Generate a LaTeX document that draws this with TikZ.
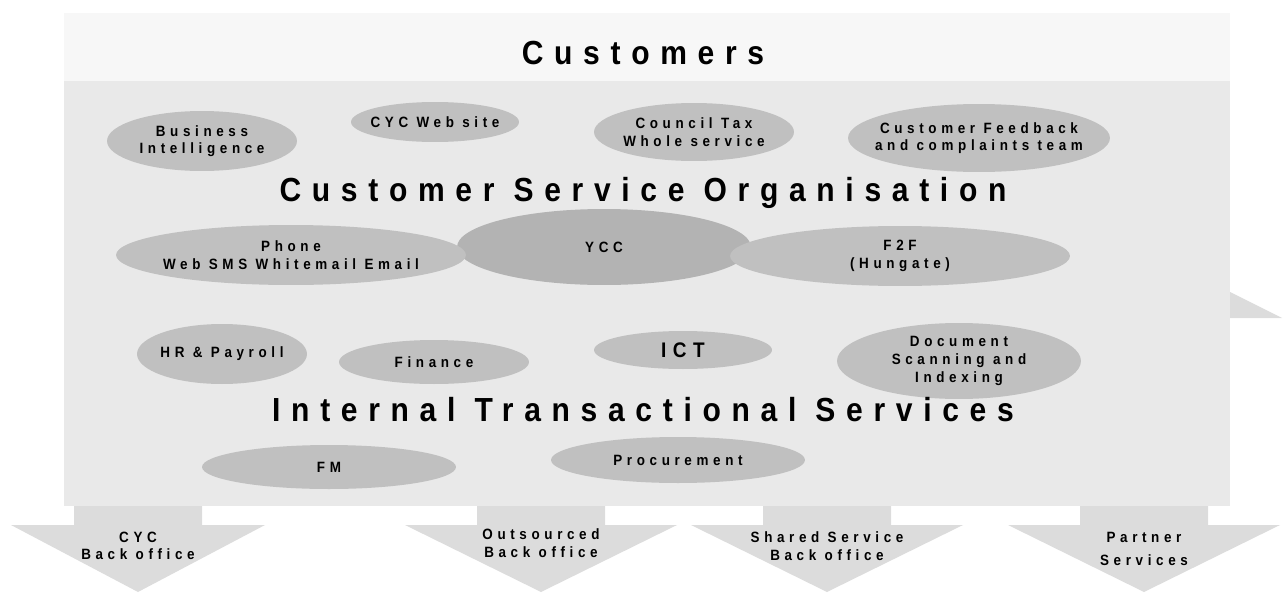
\documentclass[tikz,border=0pt]{standalone}
\usepackage{fontspec}
\setmainfont{Liberation Sans}
\newfontfamily\spaced{Liberation Sans}[UprightFont={* Bold},FakeStretch=0.9,LetterSpace=31]
\newfontfamily\spacedwide{Liberation Sans}[UprightFont={* Bold},FakeStretch=0.9,LetterSpace=32]
\usepackage{xcolor}
\usepackage{tikz}
\usetikzlibrary{shapes.geometric,positioning}

\definecolor{topgray}{HTML}{F7F7F7}
\definecolor{bandgray}{HTML}{E9E9E9}
\definecolor{arrowgray}{HTML}{DCDCDC}
\definecolor{ovalgray}{HTML}{C0C0C0}
\definecolor{yccgray}{HTML}{B3B3B3}

\begin{document}
\begin{tikzpicture}[
            x = 0.02cm, y = -0.02cm,
            oval/.style 2 args = {ellipse, fill = ovalgray, inner sep = 0pt,
                minimum width = #1*0.4mm, minimum height = #2*0.4mm},
            lbl/.style = {font = \spaced\fontsize{8.5}{10}\selectfont, align = center, inner sep = 0pt},
            title/.style = {font = \spacedwide\fontsize{19}{22}\selectfont, inner sep = 0pt}]
            \useasboundingbox (0,0) rectangle (1288,592);
            % bands
            \fill[arrowgray] (1230,292) -- (1282,318) -- (1230,318) -- cycle;
            \fill[topgray] (64,13) rectangle (1230,81);
            \fill[bandgray] (64,81) rectangle (1230,506);
            % back office arrows
            \foreach \cx/\hw in {138/127, 541/136, 827/136, 1144/136}
                \fill[arrowgray] (\cx-64,506) -- (\cx+64,506) -- (\cx+64,525) -- (\cx+\hw,525)
                    -- (\cx,592) -- (\cx-\hw,525) -- (\cx-64,525) -- cycle;
            \node[lbl] (cyc) at (138,546) {CYC\\Back office};
            \node[lbl] (outsrc) at (541,543) {Outsourced\\Back office};
            \node[lbl] (shared) at (827,546) {Shared Service\\Back office};
            \node[lbl] (partner) at (1144,549) {Partner\\[3pt]Services};
            % customer service organisation
            \node[oval = {95}{30}] (bizint) at (202,141) {};
            \node[lbl] (bizint-t) at (bizint) {Business\\Intelligence};
            \node[oval = {84}{20}] (website) at (435,122) {};
            \node[lbl] (website-t) at (website) {CYC Web site};
            \node[oval = {100}{29}] (ctax) at (694,132) {};
            \node[lbl] (ctax-t) at (ctax) {Council Tax\\Whole service};
            \node[oval = {131}{34}] (feedback) at (979,138) {};
            \node[lbl] (feedback-t) at (feedback) {Customer Feedback\\and complaints team};
            \node[oval = {147}{38}, fill = yccgray] (ycc) at (604,247) {};
            \node[lbl] (ycc-t) at (ycc) {YCC};
            \node[oval = {175}{30}] (phone) at (291,255) {};
            \node[lbl] (phone-t) at (phone) {Phone\\Web SMS Whitemail Email};
            \node[oval = {170}{30}] (f2f) at (900,256) {};
            \node[lbl] (f2f-t) at (f2f) {F2F\\(Hungate)};
            % internal transactional services
            \node[oval = {85}{30}] (hr) at (222,354) {};
            \node[lbl] (hr-t) at (hr) {HR \& Payroll};
            \node[oval = {95}{22}] (finance) at (434,362) {};
            \node[lbl] (finance-t) at (finance) {Finance};
            \node[oval = {89}{19}] (ict) at (683,350) {};
            \node[lbl, font = \spaced\fontsize{12}{14}\selectfont] (ict-t) at (ict) {ICT};
            \node[oval = {122}{38}] (docscan) at (959,361) {};
            \node[lbl] (docscan-t) at (docscan) {Document\\Scanning and\\Indexing};
            \node[oval = {127}{22}] (fm) at (329,467) {};
            \node[lbl] (fm-t) at (fm) {FM};
            \node[oval = {127}{23}] (procure) at (678,460) {};
            \node[lbl] (procure-t) at (procure) {Procurement};
            % headings
            \node[title] (customers) at (643,53) {Customers};
            \node[title] (cso) at (643,193) {Customer Service Organisation};
            \node[title] (its) at (643,410) {Internal Transactional Services};
        \end{tikzpicture}
\end{document}
